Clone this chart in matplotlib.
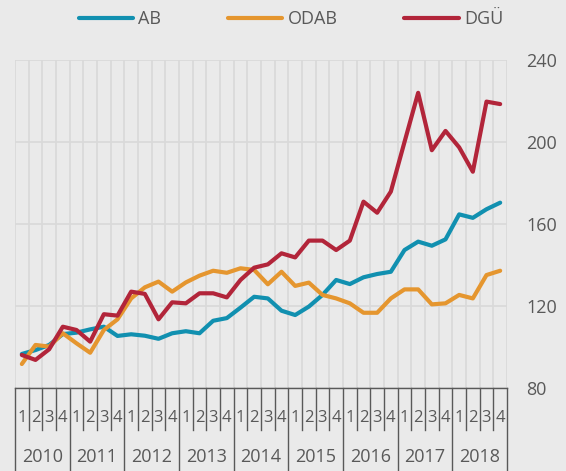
import numpy as np
import matplotlib.pyplot as plt
import matplotlib.transforms as mtransforms

plt.rcParams['font.family'] = ['Open Sans', 'DejaVu Sans']

years = ['2010', '2011', '2012', '2013', '2014', '2015', '2016', '2017', '2018']
quarters = ['1', '2', '3', '4']

ab = [96.6, 98.5, 101.0, 106.3, 107.0, 108.6, 109.9, 105.4,
      106.2, 105.5, 104.0, 106.7, 107.7, 106.7, 112.8, 114.1,
      119.2, 124.5, 123.7, 117.7, 115.6, 119.7, 125.4, 132.7,
      130.7, 134.0, 135.6, 136.7, 147.3, 151.4, 149.4, 152.5,
      164.7, 163.0, 167.2, 170.4]
odab = [91.7, 101.0, 100.2, 106.7, 101.8, 97.2, 108.3, 113.5,
        123.7, 129.1, 131.9, 127.0, 131.5, 134.8, 137.2, 136.2,
        138.4, 137.6, 130.6, 136.7, 129.8, 131.4, 125.4, 123.7,
        121.3, 116.7, 116.7, 123.7, 128.1, 128.1, 120.8, 121.3,
        125.4, 123.7, 135.1, 137.2]
dgu = [96.1, 93.7, 98.9, 109.9, 108.3, 102.6, 116.0, 115.3,
       127.0, 125.9, 113.5, 121.8, 121.3, 126.2, 126.2, 124.2,
       132.7, 138.7, 140.3, 145.7, 143.7, 151.9, 151.9, 147.3,
       151.9, 170.9, 165.5, 175.8, 200.0, 224.0, 196.0, 205.4,
       197.4, 185.5, 219.7, 218.5]

bg = '#EAEAEA'
txt = '#595959'
sep = '#595959'

fig = plt.figure(figsize=(5.66, 4.71), dpi=100, facecolor=bg)
ax = fig.add_axes([15 / 566, 83 / 471, 492 / 566, 328 / 471])
ax.set_facecolor(bg)

x = np.arange(len(ab))
ax.plot(x, ab, color='#1190B0', lw=3, label='AB', solid_capstyle='round')
ax.plot(x, odab, color='#E5962F', lw=3, label='ODAB', solid_capstyle='round')
ax.plot(x, dgu, color='#B2253A', lw=3, label='DGÜ', solid_capstyle='round')

ax.set_xlim(-0.5, len(ab) - 0.5)
ax.set_ylim(80, 240)
ax.set_yticks([80, 120, 160, 200, 240])
ax.yaxis.tick_right()
ax.tick_params(axis='y', length=0, pad=14, labelsize=13, labelcolor=txt)
ax.set_xticks([])
ax.set_xticks(np.arange(-0.5, len(ab), 1), minor=True)
ax.tick_params(axis='x', which='both', length=0, labelbottom=False)
ax.grid(axis='y', color='#D9D9D9', lw=1.2)
ax.grid(axis='x', which='minor', color='#D9D9D9', lw=1.2)
ax.set_axisbelow(True)
for s in ['left', 'right', 'top']:
    ax.spines[s].set_visible(False)
ax.spines['bottom'].set_color(sep)
ax.spines['bottom'].set_linewidth(1)

# two-level category axis
trans = mtransforms.blended_transform_factory(ax.transData, ax.transAxes)
n = len(ab)
for i in range(n + 1):
    xb = i - 0.5
    y0 = -0.253 if i % 4 == 0 else -0.128
    ax.plot([xb, xb], [0, y0], color=sep, lw=1, transform=trans, clip_on=False)
for i in range(n):
    ax.text(i, -0.090, quarters[i % 4], transform=trans, ha='center', va='center',
            fontsize=12, color=txt)
for j, yr in enumerate(years):
    ax.text(j * 4 + 1.5, -0.210, yr, transform=trans, ha='center', va='center',
            fontsize=13, color=txt)

fig.legend(loc='center', bbox_to_anchor=(0.514, 0.959), ncol=3, frameon=False,
           fontsize=13, labelcolor=txt, handlelength=3.0, handletextpad=0.3,
           columnspacing=3.7, borderpad=0)

fig.savefig('out.png', dpi=100, facecolor=bg)
